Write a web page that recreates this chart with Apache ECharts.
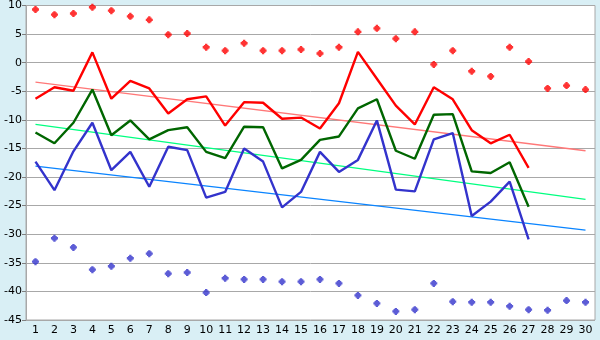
<!DOCTYPE html>
<html>
<head>
<meta charset="utf-8">
<script src="https://cdn.jsdelivr.net/npm/echarts@6/dist/echarts.min.js"></script>
<style>
  html, body { margin: 0; padding: 0; background: #d9eff5; }
  #chart { width: 600px; height: 340px; }
</style>
</head>
<body>
<div id="chart"></div>
<script>
// Day numbers along the bottom axis
const days = Array.from({ length: 30 }, (_, i) => String(i + 1));

// Upper scatter (red markers)
const highPoints = [9.3, 8.4, 8.6, 9.7, 9.1, 8.1, 7.5, 4.9, 5.1, 2.7,
  2.1, 3.4, 2.1, 2.1, 2.3, 1.6, 2.7, 5.4, 6.0, 4.2,
  5.4, -0.3, 2.1, -1.5, -2.4, 2.7, 0.2, -4.5, -4.0, -4.7];

// Lower scatter (blue markers)
const lowPoints = [-34.8, -30.7, -32.3, -36.2, -35.6, -34.2, -33.4, -36.9, -36.7, -40.2,
  -37.7, -37.9, -37.9, -38.3, -38.3, -37.9, -38.6, -40.7, -42.1, -43.5,
  -43.2, -38.6, -41.8, -41.9, -41.9, -42.6, -43.2, -43.3, -41.6, -41.9];

// Three daily series (days 1-27)
const redLine = [-6.3, -4.3, -4.9, 1.8, -6.3, -3.2, -4.5, -8.9, -6.4, -5.9,
  -11.0, -6.9, -7.0, -9.8, -9.6, -11.5, -7.1, 1.9, -2.8, -7.5,
  -10.8, -4.3, -6.4, -11.8, -14.1, -12.6, -18.4];
const greenLine = [-12.2, -14.1, -10.5, -4.7, -12.7, -10.1, -13.4, -11.8, -11.3, -15.6,
  -16.7, -11.2, -11.3, -18.5, -17.0, -13.5, -12.9, -8.0, -6.4, -15.4,
  -16.8, -9.1, -9.0, -19.0, -19.3, -17.4, -25.2];
const blueLine = [-17.3, -22.3, -15.5, -10.5, -18.8, -15.6, -21.7, -14.7, -15.3, -23.6,
  -22.6, -15.0, -17.3, -25.3, -22.6, -15.6, -19.1, -17.0, -10.1, -22.2,
  -22.5, -13.4, -12.3, -26.8, -24.3, -20.8, -30.9];

// Trend line end values at day 1 and day 30
const redTrend = [-3.4, -15.4];
const greenTrend = [-10.8, -23.9];
const blueTrend = [-18.1, -29.3];

const marker = 'path://M2,0H4V1H5V2H6V4H5V5H4V6H2V5H1V4H0V2H1V1H2Z';
const gridGray = '#a8a8a8';

function trend(ends, color) {
  return {
    type: 'line',
    data: [[0, ends[0]], [days.length - 1, ends[1]]],
    symbol: 'none',
    lineStyle: { color: color, width: 1.3 },
    z: 2,
    silent: true
  };
}

function mainLine(values, color) {
  return {
    type: 'line',
    data: values,
    symbol: 'none',
    lineStyle: { color: color, width: 2.4 },
    z: 3
  };
}

function dots(values, color) {
  return {
    type: 'scatter',
    data: values,
    symbol: marker,
    symbolSize: 7,
    itemStyle: { color: color },
    z: 4
  };
}

const chart = echarts.init(document.getElementById('chart'), null, { renderer: 'canvas' });
chart.setOption({
  animation: false,
  backgroundColor: '#d9eff5',
  textStyle: { fontFamily: 'DejaVu Sans' },
  grid: {
    left: 26, right: 5, top: 5, bottom: 20,
    show: true,
    backgroundColor: '#ffffff',
    borderColor: gridGray,
    borderWidth: 1
  },
  xAxis: {
    type: 'category',
    data: days,
    boundaryGap: true,
    axisLine: { lineStyle: { color: gridGray } },
    axisTick: { alignWithLabel: true, length: 4, lineStyle: { color: '#808080' } },
    axisLabel: { color: '#000', fontSize: 11, margin: 5, interval: 0 },
    splitLine: { show: false }
  },
  yAxis: {
    type: 'value',
    min: -45, max: 10, interval: 5,
    axisLine: { show: true, lineStyle: { color: gridGray } },
    axisTick: { show: true, length: 4, lineStyle: { color: '#808080' } },
    axisLabel: { color: '#000', fontSize: 11, margin: 4 },
    splitLine: { lineStyle: { color: gridGray, width: 1 } }
  },
  series: [
    trend(redTrend, '#ff7878'),
    trend(greenTrend, '#00ff80'),
    trend(blueTrend, '#0a84ff'),
    mainLine(redLine, '#ff0000'),
    mainLine(greenLine, '#006600'),
    mainLine(blueLine, '#3333cc'),
    dots(highPoints, '#ff0000'),
    dots(lowPoints, '#3333cc')
  ]
});
</script>
</body>
</html>
